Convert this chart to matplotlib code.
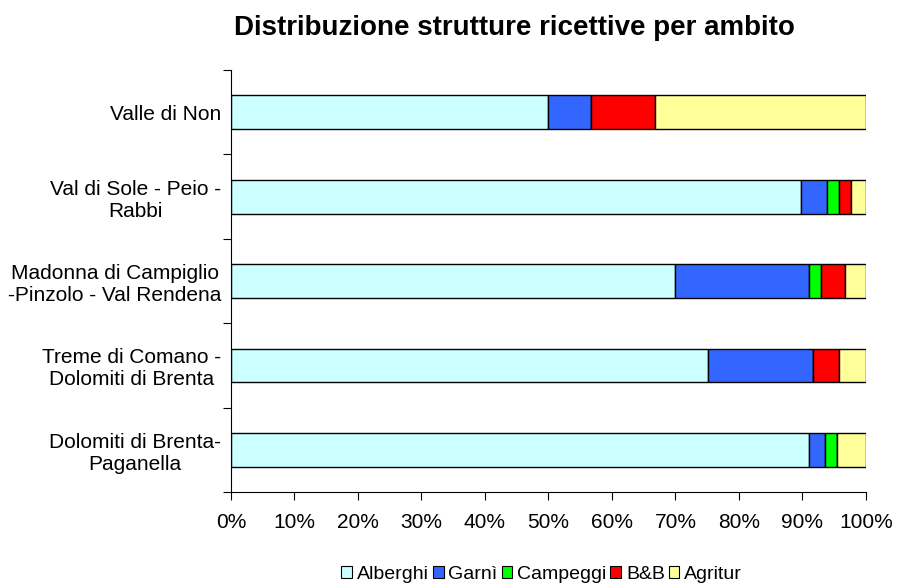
import matplotlib
matplotlib.use("Agg")
import matplotlib.pyplot as plt
from matplotlib.ticker import FixedLocator, PercentFormatter
from matplotlib.patches import Patch

plt.rcParams['font.family'] = ['Liberation Sans', 'DejaVu Sans']

categories = ["Valle di Non",
              "Val di Sole - Peio -\nRabbi",
              "Madonna di Campiglio\n-Pinzolo - Val Rendena",
              "Treme di Comano -\nDolomiti di Brenta",
              "Dolomiti di Brenta-\nPaganella"]
series_names = ["Alberghi", "Garnì", "Campeggi", "B&B", "Agritur"]
alberghi = [50.0, 89.8, 69.9, 75.1, 91.0]
garni    = [6.7, 4.0, 21.1, 16.6, 2.6]
campeggi = [0.0, 2.0, 1.9, 0.0, 1.9]
bb       = [10.0, 1.9, 3.8, 4.0, 0.0]
agritur  = [33.3, 2.3, 3.3, 4.3, 4.5]
colors = ["#CCFFFF", "#3366FF", "#00FF00", "#FF0000", "#FFFF99"]
xticks = [0, 10, 20, 30, 40, 50, 60, 70, 80, 90, 100]

fig = plt.figure(figsize=(8.97, 5.87), dpi=100)
ax = fig.add_axes([0.2575, 0.1618, 0.7079, 0.7189])

data = [alberghi, garni, campeggi, bb, agritur]
ypos = list(range(len(categories)))
left = [0.0] * len(categories)
for name, vals, c in zip(series_names, data, colors):
    ax.barh(ypos, vals, left=left, height=0.4, color=c, edgecolor='black',
            linewidth=1.0, label=name)
    left = [l + v for l, v in zip(left, vals)]

ax.set_ylim(len(categories) - 0.5, -0.5)
ax.set_xlim(0, 100)
ax.set_yticks(ypos)
ax.set_yticklabels(categories, fontsize=15, multialignment='center')
ax.tick_params(axis='y', length=0, pad=7)
ax.yaxis.set_minor_locator(FixedLocator([i - 0.5 for i in range(len(categories) + 1)]))
ax.tick_params(axis='y', which='minor', length=6, width=0.8)
ax.set_xticks(xticks)
ax.xaxis.set_major_formatter(PercentFormatter(decimals=0))
ax.tick_params(axis='x', length=6, width=0.8, labelsize=15, pad=9)

for s in ['top', 'right']:
    ax.spines[s].set_visible(False)
for s in ['left', 'bottom']:
    ax.spines[s].set_linewidth(0.8)

fig.suptitle("Distribuzione strutture ricettive per ambito", fontsize=20,
             fontweight='bold', x=0.574, y=0.952, va='center')

handles = [Patch(facecolor=c, edgecolor='black', linewidth=0.8) for c in colors]
fig.legend(handles, series_names, loc='center', bbox_to_anchor=(0.604, 0.022),
           ncol=5, frameon=False, fontsize=14, handlelength=0.55,
           handleheight=0.55, handletextpad=0.25, columnspacing=0.2,
           borderpad=0.0)

fig.savefig("out.png", dpi=100)
